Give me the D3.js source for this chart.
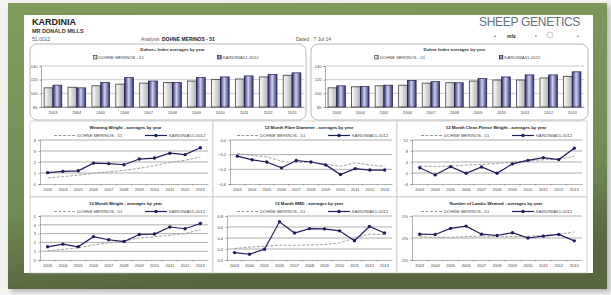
<!DOCTYPE html>
<html lang="en">
<head>
<meta charset="utf-8">
<title>Kardinia - Dohne Merinos averages by year</title>
<script src="https://cdn.jsdelivr.net/npm/d3@7"></script>
<style>
body { margin: 0; background: #f2f2f0; font-family: "Liberation Sans", Arial, sans-serif; }
</style>
</head>
<body>
<script>
// years on every x axis
var years = ["2003","2004","2005","2006","2007","2008","2009","2010","2011","2012","2013"];
var groupName = "DOHNE MERINOS - 51";
var flockName = "KARDINIA51-0012";

// index bar charts
var indexPlusGroup = [108, 109, 111, 113.5, 115, 116, 118, 120, 121, 124, 126.5];
var indexPlusFlock = [112, 108, 116, 123, 118, 116, 123, 124, 125.5, 127.5, 130];
var indexGroup = [108, 109.5, 111, 112, 115, 115.5, 118, 119.5, 119.5, 122.5, 125];
var indexFlock = [111, 110, 112, 119, 117, 115.5, 121.5, 124, 127, 127, 131.5];
var barTicks = [80, 100, 120, 140];

// trait line charts
var wwtGroup = [0.55, 0.67, 0.8, 0.97, 1.1, 1.25, 1.42, 1.67, 1.97, 2.15, 2.45];
var wwtFlock = [1.03, 1.15, 1.2, 1.9, 1.85, 1.75, 2.27, 2.36, 2.8, 2.67, 3.3];
var yfdGroup = [-0.18, -0.21, -0.23, -0.29, -0.31, -0.30, -0.33, -0.36, -0.31, -0.34, -0.36];
var yfdFlock = [-0.22, -0.27, -0.30, -0.38, -0.28, -0.30, -0.34, -0.47, -0.39, -0.41, -0.41];
var ycfwGroup = [2.5, 2.4, 2.5, 2.9, 3.1, 3.5, 3.9, 4.5, 4.8, 5.0, 6.1];
var ycfwFlock = [1.9, -0.7, 2.3, -0.1, 2.2, -0.1, 3.3, 4.6, 5.6, 4.9, 9.0];
var ywtGroup = [1.05, 1.2, 1.4, 1.7, 1.95, 2.15, 2.5, 2.65, 2.8, 3.0, 3.45];
var ywtFlock = [1.5, 1.8, 1.5, 2.65, 2.3, 2.1, 2.9, 2.95, 3.75, 3.55, 4.15];
var emdGroup = [0.21, 0.235, 0.25, 0.27, 0.265, 0.275, 0.28, 0.31, 0.4, 0.47, 0.46];
var emdFlock = [0.135, 0.105, 0.195, 0.695, 0.49, 0.57, 0.565, 0.53, 0.35, 0.61, 0.49];
var nlwGroup = [0.3, 0.15, 0.15, 0.3, 0.43, 0.36, 0.36, 0.36, 0.64, 0.86, 1.36];
var nlwFlock = [0.86, 0.8, 2.2, 2.7, 0.86, 0.57, 1.2, 0, 0.43, 0.8, -0.65];

var w = 611, h = 295;
var svg = d3.select("body").append("svg")
  .attr("width", w)
  .attr("height", h);

var defs = svg.append("defs");
var frameGrad = defs.append("linearGradient").attr("id", "frame")
  .attr("x1", 0).attr("y1", 0).attr("x2", 0.2).attr("y2", 1);
frameGrad.append("stop").attr("offset", "0%").attr("stop-color", "#7f9c5d");
frameGrad.append("stop").attr("offset", "70%").attr("stop-color", "#718c53");
frameGrad.append("stop").attr("offset", "100%").attr("stop-color", "#57663f");

var grayGrad = defs.append("linearGradient").attr("id", "grayBar");
grayGrad.append("stop").attr("offset", "0%").attr("stop-color", "#ffffff");
grayGrad.append("stop").attr("offset", "100%").attr("stop-color", "#b0b0b0");

var blueGrad = defs.append("linearGradient").attr("id", "blueBar");
blueGrad.append("stop").attr("offset", "0%").attr("stop-color", "#2c2c6c");
blueGrad.append("stop").attr("offset", "45%").attr("stop-color", "#d0d0ee");
blueGrad.append("stop").attr("offset", "100%").attr("stop-color", "#33337a");

var shadow = defs.append("filter").attr("id", "shadow")
  .attr("x", "-5%").attr("y", "-5%").attr("width", "110%").attr("height", "115%");
shadow.append("feGaussianBlur").attr("stdDeviation", 2.5);

// frame and paper
svg.append("rect").attr("x", 11).attr("y", 6).attr("width", 599).attr("height", 286)
  .attr("fill", "#777").attr("opacity", 0.5).attr("filter", "url(#shadow)");
svg.append("rect").attr("x", 8).attr("y", 3).attr("width", 599).attr("height", 286)
  .attr("fill", "url(#frame)");
svg.append("rect").attr("x", 24).attr("y", 15).attr("width", 569).attr("height", 258)
  .attr("fill", "#fff");

// header
svg.append("text").attr("x", 32).attr("y", 25).text("KARDINIA")
  .style("font-size", "9px").style("font-weight", "bold").attr("fill", "#222");
svg.append("text").attr("x", 32).attr("y", 33).text("MR DONALD MILLS")
  .style("font-size", "5.5px").style("font-weight", "bold").attr("fill", "#333");
svg.append("text").attr("x", 32).attr("y", 41).text("51.0012")
  .style("font-size", "5px").attr("fill", "#555");
svg.append("text").attr("x", 141).attr("y", 41).text("Analysis :")
  .style("font-size", "5px").attr("fill", "#555");
svg.append("text").attr("x", 162).attr("y", 41).text("DOHNE MERINOS - 51")
  .style("font-size", "5px").style("font-weight", "bold").attr("fill", "#222");
svg.append("text").attr("x", 296).attr("y", 41).text("Dated :    7 Jul 14")
  .style("font-size", "5px").attr("fill", "#555");
svg.append("text").attr("x", 580).attr("y", 26).attr("text-anchor", "end").text("SHEEP GENETICS")
  .style("font-size", "12px").attr("fill", "#62707f").style("letter-spacing", "-0.3px");
var logos = svg.append("g").attr("fill", "#555").style("font-size", "5px");
logos.append("text").attr("x", 494).attr("y", 38).text("•");
logos.append("text").attr("x", 507).attr("y", 38).text("mla")
  .style("font-weight", "bold").style("font-style", "italic").attr("fill", "#333");
logos.append("text").attr("x", 535).attr("y", 38).text("•");
logos.append("circle").attr("cx", 550).attr("cy", 35).attr("r", 3)
  .attr("fill", "none").attr("stroke", "#bbb").attr("stroke-width", 0.8);
logos.append("text").attr("x", 577).attr("y", 38).text("•");

function drawBars(box, plot, title, groupVals, flockVals) {
  var g = svg.append("g");
  g.append("rect").attr("x", box.x).attr("y", box.y).attr("width", box.w).attr("height", box.h)
    .attr("rx", 7).attr("fill", "#fff").attr("stroke", "#999").attr("stroke-width", 0.7);
  g.append("text").attr("x", (plot.left + plot.right) / 2).attr("y", box.y + 6.5)
    .attr("text-anchor", "middle").text(title)
    .style("font-size", "4.3px").style("font-weight", "bold").attr("fill", "#333");

  // legend
  var leg = [{name: groupName, fill: "url(#grayBar)", stroke: "#222", x: box.x + box.w * 0.23},
             {name: flockName, fill: "url(#blueBar)", stroke: "#1c1c50", x: box.x + box.w * 0.68}];
  leg.forEach(function(d) {
    g.append("rect").attr("x", d.x).attr("y", box.y + 11.5).attr("width", 3.5).attr("height", 3.5)
      .attr("fill", d.fill).attr("stroke", d.stroke).attr("stroke-width", 0.6);
    g.append("text").attr("x", d.x + 5).attr("y", box.y + 15).text(d.name)
      .style("font-size", "4.3px").attr("fill", "#444");
  });

  var x = d3.scaleBand().domain(years).range([plot.left, plot.right]).paddingInner(0.26).paddingOuter(0.13);
  var x1 = d3.scaleBand().domain(["group", "flock"]).range([0, x.bandwidth()]);
  var y = d3.scaleLinear().domain([80, 140]).range([plot.bottom, plot.top]);

  g.selectAll(".grid").data(barTicks).enter().append("line")
    .attr("x1", plot.left).attr("x2", plot.right)
    .attr("y1", function(d) { return y(d); }).attr("y2", function(d) { return y(d); })
    .attr("stroke", "#999").attr("stroke-width", 0.5);

  var bars = g.append("g");
  years.forEach(function(yr, i) {
    bars.append("rect").attr("x", x(yr) + x1("group")).attr("width", x1.bandwidth())
      .attr("y", y(groupVals[i])).attr("height", y(80) - y(groupVals[i]))
      .attr("fill", "url(#grayBar)").attr("stroke", "#222").attr("stroke-width", 0.7);
    bars.append("rect").attr("x", x(yr) + x1("flock")).attr("width", x1.bandwidth())
      .attr("y", y(flockVals[i])).attr("height", y(80) - y(flockVals[i]))
      .attr("fill", "url(#blueBar)").attr("stroke", "#1c1c50").attr("stroke-width", 0.7);
  });

  var ya = g.append("g").attr("transform", "translate(" + plot.left + ",0)")
    .call(d3.axisLeft(y).tickValues(barTicks).tickSize(1.5).tickPadding(2));
  var xa = g.append("g").attr("transform", "translate(0," + plot.bottom + ")")
    .call(d3.axisBottom(x).tickSize(0).tickPadding(4));
  [ya, xa].forEach(function(a) {
    a.select(".domain").attr("stroke", "#555").attr("stroke-width", 0.5);
    a.selectAll("line").attr("stroke", "#555").attr("stroke-width", 0.5);
    a.selectAll("text").style("font-size", "4px").attr("fill", "#444")
      .style("font-family", "Liberation Sans, Arial, sans-serif");
  });
}

drawBars({x: 30, y: 44, w: 276, h: 76}, {left: 41, right: 304, top: 66, bottom: 107},
  "Dohne+ Index averages by year", indexPlusGroup, indexPlusFlock);
drawBars({x: 311, y: 44, w: 277, h: 76}, {left: 325, right: 584, top: 66, bottom: 107},
  "Dohne Index averages by year", indexGroup, indexFlock);

function drawLines(box, margin, title, domain, ticks, fmt, groupVals, flockVals) {
  var g = svg.append("g");
  g.append("rect").attr("x", box.x).attr("y", box.y).attr("width", box.w).attr("height", box.h)
    .attr("fill", "#fff").attr("stroke", "#b8b8b8").attr("stroke-width", 0.6);
  var plot = {left: box.x + margin, right: box.x + box.w - 5, top: box.y + 19, bottom: box.y + 63};
  g.append("text").attr("x", box.x + box.w / 2 + 4).attr("y", box.y + 8)
    .attr("text-anchor", "middle").text(title)
    .style("font-size", "4.3px").style("font-weight", "bold").attr("fill", "#222");

  // legend
  var ly = box.y + 14.5;
  g.append("line").attr("x1", box.x + 24).attr("x2", box.x + 45).attr("y1", ly).attr("y2", ly)
    .attr("stroke", "#888").attr("stroke-width", 0.9).attr("stroke-dasharray", "3,1.5");
  g.append("text").attr("x", box.x + 47).attr("y", ly + 1.5).text(groupName)
    .style("font-size", "4.3px").attr("fill", "#444");
  g.append("line").attr("x1", box.x + 115).attr("x2", box.x + 137).attr("y1", ly).attr("y2", ly)
    .attr("stroke", "#1e1e5c").attr("stroke-width", 1.2);
  g.append("path").attr("d", d3.symbol(d3.symbolCircle, 9)())
    .attr("transform", "translate(" + (box.x + 126) + "," + ly + ")").attr("fill", "#1e1e5c");
  g.append("text").attr("x", box.x + 139).attr("y", ly + 1.5).text(flockName)
    .style("font-size", "4.3px").attr("fill", "#444");

  var x = d3.scaleBand().domain(years).range([plot.left, plot.right]);
  var y = d3.scaleLinear().domain(domain).range([plot.bottom, plot.top]);

  g.selectAll(".grid").data(ticks.slice(1)).enter().append("line")
    .attr("x1", plot.left).attr("x2", plot.right)
    .attr("y1", function(d) { return y(d); }).attr("y2", function(d) { return y(d); })
    .attr("stroke", "#6a6a6a").attr("stroke-width", 0.55);

  var cx = function(d, i) { return x(years[i]) + x.bandwidth() / 2; };
  g.append("path").datum(groupVals)
    .attr("d", d3.line().x(cx).y(function(d) { return y(d); }))
    .attr("fill", "none").attr("stroke", "#999").attr("stroke-width", 0.9)
    .attr("stroke-dasharray", "3,1.5");
  g.append("path").datum(flockVals)
    .attr("d", d3.line().x(cx).y(function(d) { return y(d); }))
    .attr("fill", "none").attr("stroke", "#1e1e5c").attr("stroke-width", 1.2);
  g.selectAll(".pt").data(flockVals).enter().append("path")
    .attr("d", d3.symbol(d3.symbolCircle, 9)())
    .attr("transform", function(d, i) { return "translate(" + cx(d, i) + "," + y(d) + ")"; })
    .attr("fill", "#1e1e5c");

  var ya = g.append("g").attr("transform", "translate(" + plot.left + ",0)")
    .call(d3.axisLeft(y).tickValues(ticks).tickFormat(fmt).tickSize(1.5).tickPadding(2.5));
  var xa = g.append("g").attr("transform", "translate(0," + plot.bottom + ")")
    .call(d3.axisBottom(x).tickSize(0).tickPadding(4));
  xa.selectAll(".sep").data(years).enter().append("line")
    .attr("x1", function(d) { return x(d); }).attr("x2", function(d) { return x(d); })
    .attr("y1", 0).attr("y2", 1.5);
  [ya, xa].forEach(function(a) {
    a.select(".domain").attr("stroke", "#666").attr("stroke-width", 0.5);
    a.selectAll("line").attr("stroke", "#666").attr("stroke-width", 0.5);
    a.selectAll("text").style("font-size", "4px").attr("fill", "#444")
      .style("font-family", "Liberation Sans, Arial, sans-serif");
  });
}

var f1 = d3.format(".1f"), f0 = d3.format("d");
var pct = function(d) { return d + "%"; };
drawLines({x: 30, y: 121, w: 183, h: 76}, 10, "Weaning Weight - averages by year",
  [0, 4], [0, 1, 2, 3, 4], f0, wwtGroup, wwtFlock);
drawLines({x: 213, y: 121, w: 184, h: 76}, 17, "12 Month Fibre Diameter - averages by year",
  [-0.6, 0], [-0.6, -0.4, -0.2, 0], f1, yfdGroup, yfdFlock);
drawLines({x: 397, y: 121, w: 190, h: 76}, 15, "12 Month Clean Fleece Weight - averages by year",
  [-4, 12], [-4, 0, 4, 8, 12], f0, ycfwGroup, ycfwFlock);
drawLines({x: 30, y: 197, w: 183, h: 76}, 10, "12 Month Weight - averages by year",
  [0, 5], [0, 1, 2, 3, 4, 5], f0, ywtGroup, ywtFlock);
drawLines({x: 213, y: 197, w: 184, h: 76}, 14, "12 Month EMD - averages by year",
  [0, 0.8], [0, 0.2, 0.4, 0.6, 0.8], f1, emdGroup, emdFlock);
drawLines({x: 397, y: 197, w: 190, h: 76}, 15, "Number of Lambs Weaned - averages by year",
  [-5, 5], [-5, 0, 5], pct, nlwGroup, nlwFlock);
</script>
</body>
</html>
